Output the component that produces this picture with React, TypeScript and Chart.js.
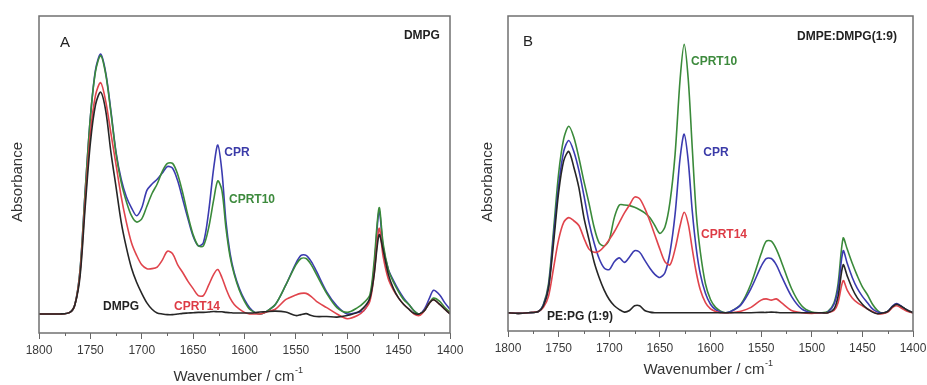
import React, { useEffect, useRef } from "react";
import { Chart, registerables } from "chart.js";

Chart.register(...registerables);

// Wavenumber grid (cm-1) shared by every spectrum
const WAVENUMBERS = [
  1800, 1790, 1780, 1770, 1765, 1760, 1755, 1750, 1745, 1740,
  1735, 1730, 1725, 1720, 1715, 1710, 1705, 1700, 1695, 1690,
  1685, 1680, 1675, 1670, 1665, 1660, 1655, 1650, 1645, 1640,
  1635, 1630, 1626, 1622, 1618, 1614, 1610, 1605, 1600, 1595,
  1590, 1585, 1580, 1570, 1560, 1550, 1545, 1540, 1535, 1530,
  1520, 1510, 1500, 1490, 1484, 1478, 1474, 1469, 1465, 1460,
  1455, 1450, 1445, 1440, 1435, 1430, 1425, 1420, 1416, 1410,
  1405, 1400,
];

// Panel A (DMPG)
const A_CPR = [
  6, 6, 6, 6.5, 9, 20, 45, 68, 83, 88,
  82, 70, 57, 48.5, 43, 39.5, 37, 39.5, 45, 47,
  48.5, 50.5, 52.5, 52, 48, 42, 36, 30.5, 27.5, 28.5,
  38, 52, 59.3, 51, 35, 25, 19, 14, 10.5, 8,
  6.5, 6, 6.5, 9, 15, 22, 24.5, 24.5, 22.5, 19.5,
  13, 8.5, 6, 6.5, 7, 11, 20, 38.5, 27, 20,
  16.5, 13.5, 11, 9, 7, 6, 7.5, 11, 13.5, 12,
  9.5, 7.5,
];
const A_CPRT10 = [
  6, 6, 6, 6.5, 9, 20, 45, 68, 82.5, 87.5,
  81.5, 69.5, 56.5, 47.5, 41.5, 37, 35, 36, 40, 44,
  47, 51, 53.5, 53.5, 50, 44, 37, 31, 27.5, 27.5,
  33, 42, 48, 45, 33, 24, 18.5, 13.5, 10, 7.5,
  6.5, 6, 6.5, 9, 15, 21.5, 23.5, 23.5, 21.5, 18.5,
  12.5, 8, 6.5, 8, 9.5, 12, 22, 39.5, 28, 20,
  16, 13, 10.5, 9, 7, 6, 7, 9.5, 11, 10,
  8, 6.5,
];
const A_CPRT14 = [
  6, 6, 6, 6.5, 9, 19, 42, 63, 75, 79,
  73, 63, 53, 43, 35, 28.5, 24.5, 21.5, 20.3, 20.3,
  20.8, 23, 25.8, 25, 21.5, 19, 16.3, 14, 11.8, 11.8,
  15, 18.5, 20, 17.5, 14, 11, 9, 7.5, 6.5, 6,
  6, 6, 6.5, 7.5, 10.5, 12, 12.5, 12.5, 11.5, 10,
  8, 6, 4.5, 5.5, 7, 10, 18, 33, 24, 17,
  13.5, 11, 9, 7.5, 6, 5.5, 7, 9.5, 10.5, 9,
  7.5, 6,
];
const A_DMPG = [
  6, 6, 6, 6.5, 9, 18, 40, 60, 72, 76,
  70, 57, 46, 35, 27, 20.5, 16, 12.5, 9.5, 7.5,
  6.3, 6, 5.8, 5.8, 6, 6.2, 6.3, 6.4, 6.5, 6.5,
  6.6, 6.8, 6.7, 6.7, 6.5, 6.4, 6.3, 6.3, 6.3, 6.3,
  6.4, 6.6, 6.7, 6.9, 6.6, 5.5, 5.8, 6.1, 5.5, 5.2,
  5.2, 5, 5.5, 6.5, 8, 11, 18, 31, 26, 18.5,
  14, 11, 9, 7.5, 6.2, 6, 7, 9.5, 10.5, 9,
  7.5, 6,
];

// Panel B (DMPE:DMPG 1:9)
const B_CPRT10 = [
  5.8, 5.6, 5.8, 6.2, 8.5, 15, 32, 50, 61, 65,
  61.5, 55, 47.5, 40.5, 33, 28, 27, 29, 36, 40,
  40, 39.8, 39.3, 38.5, 37.5, 36, 33.5, 31, 33, 41,
  56, 80, 91, 80, 58, 37, 25, 15, 10, 7.5,
  6.3, 5.8, 6.2, 8.5, 15, 24.5, 28.5, 28.5, 26, 22,
  13.5, 8, 6, 5.8, 6.2, 9, 15, 29.5, 26, 21.5,
  17.5, 14, 11.5, 8.5, 6.5, 5.7, 6.2, 7.8, 8.5, 7.5,
  6.5, 5.8,
];
const B_CPR = [
  5.8, 5.6, 5.8, 6.2, 8.3, 14, 30, 46, 57, 60.5,
  57, 51, 43, 34.5, 28, 23, 20, 19.5, 22, 23.2,
  21.8, 23.5, 25.5, 25, 22.5, 20, 18, 17, 18.5, 25,
  37, 55, 62.5, 54, 38, 26, 18, 12, 8.5, 6.8,
  6, 5.8, 6.2, 8.3, 13.5, 20.5, 23, 23, 21, 17.5,
  11, 7, 5.8, 5.8, 6, 8.5, 13.5, 25.5, 21.5, 17,
  13.5, 11, 9, 7, 6, 5.7, 6.2, 8, 8.7, 7.5,
  6.5, 5.8,
];
const B_CPRT14 = [
  5.8, 5.6, 5.8, 6.2, 7.5, 11, 20, 29, 34.5, 36,
  35, 33.5, 29.5, 26, 25, 25.3, 26.8, 29, 31.5, 34.5,
  37.5, 40, 42.5, 42, 39, 35, 30.5, 26, 22, 21,
  26, 33.5, 37.7, 34, 26, 18.5, 13, 9, 7, 6.2,
  5.8, 5.8, 5.8, 6.3, 7.5, 9.8, 10.2, 9.8, 10.2, 9,
  6.5, 5.8, 5.6, 5.8, 5.8, 6.5, 9, 16, 13, 10.5,
  9, 8, 7, 6.2, 5.5, 5.5, 6, 7.5, 8, 7,
  6.2, 5.8,
];
const B_PEPG = [
  5.8, 5.6, 5.8, 6.2, 8, 13.5, 28, 44, 54, 57,
  52, 45.5, 36, 29, 22, 17, 13, 10, 8, 6.8,
  6, 6.5, 8, 8, 6.5, 6, 5.8, 5.8, 5.8, 5.8,
  5.8, 5.8, 5.8, 5.8, 5.8, 5.8, 5.8, 5.8, 5.8, 5.8,
  5.8, 5.8, 5.8, 5.8, 5.8, 5.9, 5.9, 6, 5.9, 5.8,
  5.8, 5.8, 5.8, 5.8, 5.8, 7, 11, 21, 17.5, 13.5,
  10.5, 8.5, 7, 6, 5.5, 5.7, 6.2, 7.8, 8.5, 7.5,
  6.5, 5.8,
];

const MINOR_TICKS = [1775, 1725, 1675, 1625, 1575, 1525, 1475, 1425];

const LABELS_A = ["A", "DMPG", "CPR", "CPRT10", "CPRT14", "DMPG"];
const LABELS_B = ["B", "DMPE:DMPG(1:9)", "CPRT10", "CPR", "CPRT14", "PE:PG (1:9)"];

const COL = {
  cpr: "#3b3bb0",
  t10: "#3a8a3a",
  t14: "#e0444c",
  lipid: "#262626",
};
const TXT = {
  cpr: "#3b3ba8",
  t10: "#3d8a3d",
  t14: "#dd3b45",
  lipid: "#222222",
};

const BOLD = 'bold 12px "Liberation Sans", Arial, sans-serif';
const LETTER = '15px "Liberation Sans", Arial, sans-serif';

type Lab = { text: string; x: number; y: number; color: string; font: string };

type PanelCfg = {
  width: number;
  padLeft: number;
  padRight: number;
  padTop: number;
  axisH: number;
  series: { data: number[]; color: string }[];
  labels: Lab[];
  yTitle: { x: number; y: number };
  xTitle: { x: number; y: number };
};

const PANEL_A: PanelCfg = {
  width: 470,
  padLeft: 39,
  padRight: 20,
  padTop: 16,
  axisH: 52,
  series: [
    { data: A_DMPG, color: COL.lipid },
    { data: A_CPRT14, color: COL.t14 },
    { data: A_CPRT10, color: COL.t10 },
    { data: A_CPR, color: COL.cpr },
  ],
  labels: [
    { text: LABELS_A[0], x: 1774.7, y: 91.6, color: TXT.lipid, font: LETTER },
    { text: LABELS_A[1], x: 1427.3, y: 93.8, color: TXT.lipid, font: BOLD },
    { text: LABELS_A[2], x: 1607.3, y: 56.9, color: TXT.cpr, font: BOLD },
    { text: LABELS_A[3], x: 1592.7, y: 42.1, color: TXT.t10, font: BOLD },
    { text: LABELS_A[4], x: 1646.2, y: 8.4, color: TXT.t14, font: BOLD },
    { text: LABELS_A[5], x: 1720.2, y: 8.4, color: TXT.lipid, font: BOLD },
  ],
  yTitle: { x: 18, y: 182 },
  xTitle: { x: 238, y: 377 },
};

const PANEL_B: PanelCfg = {
  width: 463,
  padLeft: 38,
  padRight: 20,
  padTop: 16,
  axisH: 54,
  series: [
    { data: B_PEPG, color: COL.lipid },
    { data: B_CPRT14, color: COL.t14 },
    { data: B_CPR, color: COL.cpr },
    { data: B_CPRT10, color: COL.t10 },
  ],
  labels: [
    { text: LABELS_B[0], x: 1780.2, y: 91.7, color: TXT.lipid, font: LETTER },
    { text: LABELS_B[1], x: 1465.2, y: 93.3, color: TXT.lipid, font: BOLD },
    { text: LABELS_B[2], x: 1596.5, y: 85.4, color: TXT.t10, font: BOLD },
    { text: LABELS_B[3], x: 1594.6, y: 56.7, color: TXT.cpr, font: BOLD },
    { text: LABELS_B[4], x: 1586.7, y: 30.6, color: TXT.t14, font: BOLD },
    { text: LABELS_B[5], x: 1728.9, y: 4.5, color: TXT.lipid, font: BOLD },
  ],
  yTitle: { x: 18, y: 182 },
  xTitle: { x: 238, y: 370 },
};

function decorPlugin(cfg: PanelCfg) {
  return {
    id: "decor",
    afterDatasetsDraw(chart: any) {
      const { ctx, chartArea: a, scales } = chart;
      const xs = scales.x;
      const ys = scales.y;
      ctx.save();
      // frame
      ctx.strokeStyle = "#707070";
      ctx.lineWidth = 1.5;
      ctx.strokeRect(a.left, a.top, a.right - a.left, a.bottom - a.top);
      // minor ticks
      ctx.lineWidth = 1;
      ctx.strokeStyle = "#666";
      for (const v of MINOR_TICKS) {
        const px = Math.round(xs.getPixelForValue(v)) + 0.5;
        ctx.beginPath();
        ctx.moveTo(px, a.bottom);
        ctx.lineTo(px, a.bottom + 3);
        ctx.stroke();
      }
      // annotations
      ctx.textAlign = "center";
      ctx.textBaseline = "middle";
      for (const l of cfg.labels) {
        ctx.font = l.font;
        ctx.fillStyle = l.color;
        ctx.fillText(l.text, xs.getPixelForValue(l.x), ys.getPixelForValue(l.y));
      }
      // y title
      ctx.save();
      ctx.translate(cfg.yTitle.x, cfg.yTitle.y);
      ctx.rotate(-Math.PI / 2);
      ctx.font = '15px "Liberation Sans", Arial, sans-serif';
      ctx.fillStyle = "#333";
      ctx.fillText("Absorbance", 0, 0);
      ctx.restore();
      // x title with superscript
      const main = "Wavenumber / cm";
      const sup = "-1";
      ctx.font = '15px "Liberation Sans", Arial, sans-serif';
      const wMain = ctx.measureText(main).width;
      ctx.font = '9px "Liberation Sans", Arial, sans-serif';
      const wSup = ctx.measureText(sup).width;
      const x0 = cfg.xTitle.x - (wMain + wSup) / 2;
      ctx.textAlign = "left";
      ctx.fillStyle = "#333";
      ctx.font = '15px "Liberation Sans", Arial, sans-serif';
      ctx.fillText(main, x0, cfg.xTitle.y);
      ctx.font = '9px "Liberation Sans", Arial, sans-serif';
      ctx.fillText(sup, x0 + wMain + 0.5, cfg.xTitle.y - 6);
      ctx.restore();
    },
  };
}

function Panel({ cfg, left }: { cfg: PanelCfg; left: number }) {
  const ref = useRef<HTMLCanvasElement | null>(null);
  useEffect(() => {
    if (!ref.current) return;
    const chart = new Chart(ref.current, {
      type: "line",
      data: {
        datasets: cfg.series.map((s) => ({
          data: WAVENUMBERS.map((w, i) => ({ x: w, y: s.data[i] })),
          borderColor: s.color,
          borderWidth: 1.6,
          pointRadius: 0,
          fill: false,
          tension: 0.3,
        })),
      },
      options: {
        animation: false,
        responsive: false,
        devicePixelRatio: 1,
        events: [],
        layout: {
          padding: { left: cfg.padLeft, right: cfg.padRight, top: cfg.padTop, bottom: 0 },
        },
        plugins: {
          legend: { display: false },
          tooltip: { enabled: false },
        },
        scales: {
          x: {
            type: "linear",
            min: 1400,
            max: 1800,
            reverse: true,
            afterFit: (scale: any) => {
              scale.height = cfg.axisH;
            },
            ticks: {
              stepSize: 50,
              autoSkip: false,
              maxRotation: 0,
              padding: 4,
              color: "#3a3a3a",
              font: { family: '"Liberation Sans", Arial, sans-serif', size: 12 },
              callback: (v: any) => String(v),
            },
            grid: {
              drawOnChartArea: false,
              drawTicks: true,
              tickLength: 6,
              color: "#666",
            },
            border: { display: false },
          },
          y: {
            type: "linear",
            min: 0,
            max: 100,
            display: false,
          },
        },
      },
      plugins: [decorPlugin(cfg)],
    } as any);
    return () => chart.destroy();
  }, [cfg]);
  return (
    <canvas
      ref={ref}
      width={cfg.width}
      height={385}
      style={{ position: "absolute", left, top: 0, width: cfg.width, height: 385 }}
    />
  );
}

export default function App() {
  return (
    <div
      style={{
        position: "fixed",
        left: 0,
        top: 0,
        width: 927,
        height: 385,
        background: "#ffffff",
        overflow: "hidden",
      }}
    >
      <Panel cfg={PANEL_A} left={0} />
      <Panel cfg={PANEL_B} left={470} />
    </div>
  );
}
